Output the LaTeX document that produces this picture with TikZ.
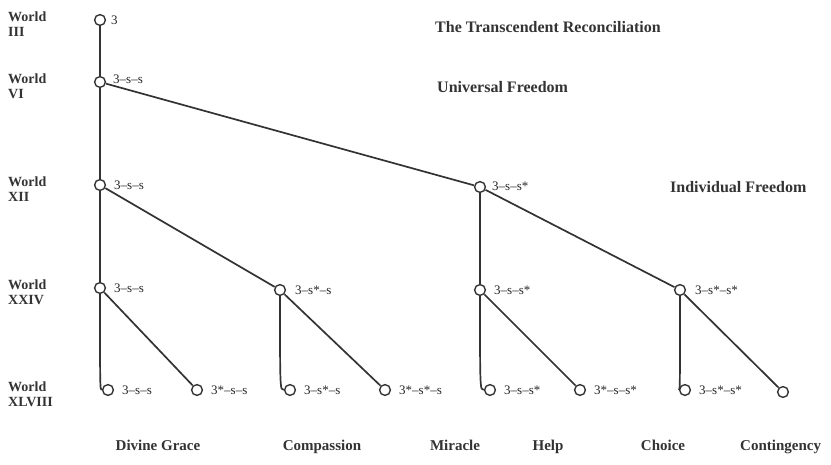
\documentclass[tikz,border=0pt]{standalone}
\usepackage{fontspec}
\setmainfont{Liberation Serif}
\begin{document}
\begin{tikzpicture}[x=1pt,y=-1pt,
  wn/.style={circle,minimum size=12pt,inner sep=0pt},
  lab/.style={anchor=west,font=\fontsize{13}{14}\selectfont,inner sep=0pt,text=black!85},
  wl/.style={anchor=north west,align=left,font=\fontsize{14}{14.5}\selectfont\bfseries,inner sep=0pt,text=black!80},
  ttl/.style={anchor=west,font=\fontsize{16}{18}\selectfont\bfseries,inner sep=0pt,text=black!80},
  bt/.style={anchor=base,font=\fontsize{15}{17}\selectfont\bfseries,inner sep=0pt,text=black!80},
  ln/.style={line width=1.7pt,black!80}]
\useasboundingbox (0,0) rectangle (831,465);
% world labels
\node[wl] (w3) at (8,12) {World\\III};
\node[wl] (w6) at (8,74) {World\\VI};
\node[wl] (w12) at (8,177) {World\\XII};
\node[wl] (w24) at (8,280) {World\\XXIV};
\node[wl] (w48) at (8,382) {World\\XLVIII};
% titles
\node[ttl] (t1) at (435,27) {The Transcendent Reconciliation};
\node[ttl] (t2) at (437,87) {Universal Freedom};
\node[ttl] (t3) at (670,187) {Individual Freedom};
% nodes
\node[wn] (a) at (100,20) {};
\node[wn] (b) at (100,82) {};
\node[wn] (c1) at (100,185) {};
\node[wn] (c2) at (480,187) {};
\node[wn] (d1) at (100,288) {};
\node[wn] (d2) at (280,290) {};
\node[wn] (d3) at (480,290) {};
\node[wn] (d4) at (680,290) {};
\node[wn] (e1) at (108,390) {};
\node[wn] (e2) at (197,390) {};
\node[wn] (e3) at (290,390) {};
\node[wn] (e4) at (385,390) {};
\node[wn] (e5) at (490,390) {};
\node[wn] (e6) at (580,390) {};
\node[wn] (e7) at (685,390) {};
\node[wn] (e8) at (783,392) {};
% connectors
\draw[ln] (a) -- (b);
\draw[ln] (b) -- (c1);
\draw[ln] (c1) -- (d1);
\draw[ln] (b) -- (c2);
\draw[ln] (c1) -- (d2);
\draw[ln] (c2) -- (d3);
\draw[ln] (c2) -- (d4);
\draw[ln] (d1.south) .. controls (d1.south |- e1.west) .. (e1.west);
\draw[ln] (d2.south) .. controls (d2.south |- e3.west) .. (e3.west);
\draw[ln] (d3.south) .. controls (d3.south |- e5.west) .. (e5.west);
\draw[ln] (d4.south) .. controls (d4.south |- e7.west) .. (e7.west);
\draw[ln] (d1) -- (e2);
\draw[ln] (d2) -- (e4);
\draw[ln] (d3) -- (e6);
\draw[ln] (d4) -- (e8);
% circles on top
\foreach \n in {a,b,c1,c2,d1,d2,d3,d4,e1,e2,e3,e4,e5,e6,e7,e8}{
  \fill[white] (\n.center) circle (4.6pt);
  \draw[line width=1.4pt,black!80] (\n.center) circle (5.4pt);
}
% node labels
\node[lab] (la) at ([xshift=11pt]a.center) {3};
\node[lab] (lb) at ([xshift=13pt,yshift=3pt]b.center) {3–s–s};
\node[lab] (lc1) at ([xshift=14pt]c1.center) {3–s–s};
\node[lab] (lc2) at ([xshift=12pt,yshift=1pt]c2.center) {3–s–s*};
\node[lab] (ld1) at ([xshift=14pt]d1.center) {3–s–s};
\node[lab] (ld2) at ([xshift=15pt]d2.center) {3–s*–s};
\node[lab] (ld3) at ([xshift=14pt]d3.center) {3–s–s*};
\node[lab] (ld4) at ([xshift=15pt]d4.center) {3–s*–s*};
\node[lab] (le1) at ([xshift=14pt]e1.center) {3–s–s};
\node[lab] (le2) at ([xshift=14pt]e2.center) {3*–s–s};
\node[lab] (le3) at ([xshift=14pt]e3.center) {3–s*–s};
\node[lab] (le4) at ([xshift=14pt]e4.center) {3*–s*–s};
\node[lab] (le5) at ([xshift=14pt]e5.center) {3–s–s*};
\node[lab] (le6) at ([xshift=14pt]e6.center) {3*–s–s*};
\node[lab] (le7) at ([xshift=14pt]e7.center) {3–s*–s*};
% bottom labels
\node[bt] (g1) at (158,450) {Divine Grace};
\node[bt] (g2) at (322,450) {Compassion};
\node[bt] (g3) at (455,450) {Miracle};
\node[bt] (g4) at (548,450) {Help};
\node[bt] (g5) at (663,450) {Choice};
\node[bt,anchor=base west] (g6) at (740,450) {Contingency};
\end{tikzpicture}
\end{document}
